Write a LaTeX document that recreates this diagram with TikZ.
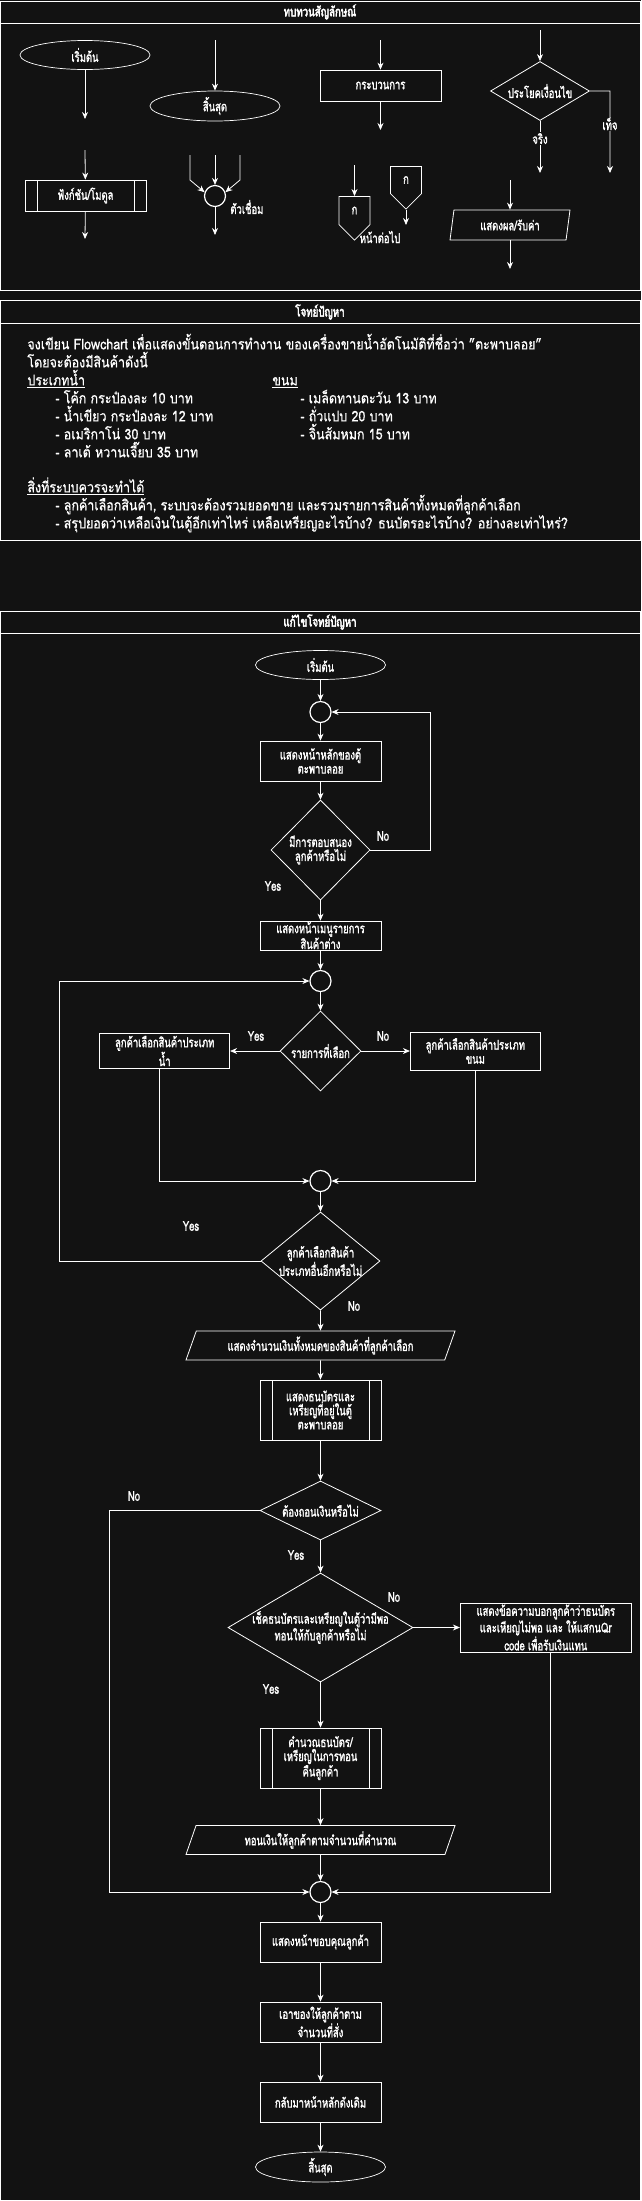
\documentclass[tikz,border=0pt]{standalone}
\usepackage{fontspec}
\setmainfont[Script=Thai, FakeStretch=0.85, FakeBold=0.6]{Loma}
\newfontfamily\chartfont[Script=Thai, FakeStretch=0.7, FakeBold=1.5]{Loma}
\newfontfamily\headfont[Script=Thai, FakeStretch=0.72, FakeBold=3]{Loma}
\usepackage{xcolor}
\usepackage{tikz}
\usetikzlibrary{shapes.geometric, shapes.symbols, positioning}
\usetikzlibrary{arrows.meta}
\tikzset{>={Stealth[length=7pt,width=6pt]}}
\definecolor{bg}{HTML}{121212}

\begin{document}
\begin{tikzpicture}[x=1pt, y=-1pt, color=white, line width=0.8pt,
    terminal/.style={ellipse, draw, line width=0.7pt, minimum width=130pt, minimum height=29pt, inner sep=0pt, font=\chartfont\fontsize{13.5}{14}\selectfont},
    process/.style={rectangle, draw, minimum width=121pt, minimum height=40pt, inner sep=0pt, align=center, font=\chartfont\fontsize{13.5}{14}\selectfont},
    subproc/.style={process, minimum height=60pt, path picture={\draw ([xshift=12pt]path picture bounding box.north west) -- ([xshift=12pt]path picture bounding box.south west) ([xshift=-12pt]path picture bounding box.north east) -- ([xshift=-12pt]path picture bounding box.south east);}},
    decision/.style={diamond, draw, shape aspect=1.6, inner sep=-15pt, align=center, font=\chartfont\fontsize{13.5}{14}\selectfont},
    io/.style={trapezium, trapezium left angle=60, trapezium right angle=120, trapezium stretches body, draw, minimum width=269pt, minimum height=29pt, inner sep=0pt, font=\chartfont\fontsize{13.5}{14}\selectfont},
    offpage/.style={signal, signal to=south, draw, minimum width=31pt, minimum height=31pt, inner sep=0pt, font=\chartfont\fontsize{13.5}{14}\selectfont},
    junction/.style={circle, draw, line width=1.2pt, minimum size=21pt, inner sep=0pt},
    lbl/.style={inner sep=1pt, font=\chartfont\fontsize{13.5}{14}\selectfont},
    heading/.style={inner sep=0pt, font=\headfont\fontsize{13.5}{14}\selectfont},
    bodytext/.style={anchor=north west, align=left, inner sep=0pt, font=\fontsize{14.7}{18}\selectfont},
    frame/.style={line width=1pt}]

    %Background and frames
    \fill[bg] (0,0) rectangle (641,2201);
    \useasboundingbox (0,0) rectangle (641,2201);
    \draw[frame] (0.5,1) rectangle (640.5,290) (0.5,23) -- (640.5,23);
    \draw[frame] (0.5,300.5) rectangle (640.5,540) (0.5,323) -- (640.5,323);
    \draw[frame] (0.5,611) rectangle (640.5,2200) (0.5,633) -- (640.5,633);
    \node[heading](reviewTitle) at (320,12){ทบทวนสัญลักษณ์};
    \node[heading](taskTitle) at (320,312){โจทย์ปัญหา};
    \node[heading](solveTitle) at (320,622){แก้ไขโจทย์ปัญหา};

    %Symbols
    \node[terminal](lgStart) at (85,55){เริ่มต้น};
    \coordinate (lgStartOut) at (85,119);
    \coordinate (lgFuncIn) at (85,150);
    \node[subproc, minimum height=31pt](lgFunc) at (85.5,195.5){ฟังก์ชัน/โมดูล};
    \coordinate (lgFuncOut) at (85,239);
    \coordinate (lgEndIn) at (215,40);
    \node[terminal, minimum height=30pt](lgEnd) at (215,106){สิ้นสุด};
    \coordinate (lgJoinL) at (190,155);
    \coordinate (lgJoinM) at (215,155);
    \coordinate (lgJoinR) at (240,155);
    \node[junction](lgJoin) at (215,196){};
    \coordinate (lgJoinOut) at (215,235);
    \node[lbl, anchor=west](lgJoinText) at (229,207){ตัวเชื่อม};
    \coordinate (lgProcIn) at (380.5,40);
    \node[process, minimum height=31pt](lgProc) at (380.5,85.5){กระบวนการ};
    \coordinate (lgProcOut) at (380.5,130);
    \coordinate (lgPageIn) at (354.5,165);
    \node[offpage](lgPageA) at (354.5,210.5){ก};
    \node[offpage, minimum height=30pt](lgPageB) at (406,180){ก};
    \coordinate (lgPageOut) at (406,225);
    \node[lbl](lgPageText) at (380,237){หน้าต่อไป};
    \coordinate (lgDecIn) at (540,30);
    \node[decision, minimum width=99pt, minimum height=59pt](lgDec) at (540,91){ประโยคเงื่อนไข};
    \coordinate (lgDecTrue) at (540,173);
    \coordinate (lgDecFalse) at (610,173);
    \coordinate (lgIOIn) at (510,180);
    \node[io, trapezium left angle=70, trapezium right angle=110, minimum width=120pt, minimum height=30pt](lgIO) at (510,225){แสดงผล/รับค่า};
    \coordinate (lgIOOut) at (510,269);

    \draw[->] (lgStart) -- (lgStartOut);
    \draw[->] (lgFuncIn) -- (lgFunc);
    \draw[->] (lgFunc) -- (lgFuncOut);
    \draw[->] (lgEndIn) -- (lgEnd);
    \draw[->] (lgJoinL) -- ++(0,25) -- (lgJoin.160);
    \draw[->] (lgJoinM) -- (lgJoin);
    \draw[->] (lgJoinR) -- ++(0,25) -- (lgJoin.20);
    \draw[->] (lgJoin) -- (lgJoinOut);
    \draw[->] (lgProcIn) -- (lgProc);
    \draw[->] (lgProc) -- (lgProcOut);
    \draw[->] (lgPageIn) -- (lgPageA);
    \draw[->] (lgPageB.south) -- (lgPageOut);
    \draw[->] (lgDecIn) -- (lgDec);
    \draw[->] (lgDec.south) -- node[lbl, fill=bg, pos=0.34](lgTrueText){จริง} (lgDecTrue);
    \draw[->] (lgDec.east) -- ++(20,0) -- node[lbl, fill=bg, pos=0.4](lgFalseText){เท็จ} (lgDecFalse);
    \draw[->] (lgIOIn) -- (lgIO);
    \draw[->] (lgIO) -- (lgIOOut);

    %Task
    \node[bodytext](intro) at (27,332){\rule{0pt}{17pt}จงเขียน Flowchart เพื่อแสดงขั้นตอนการทำงาน ของเครื่องขายน้ำอัตโนมัติที่ชื่อว่า "ตะพาบลอย"\\โดยจะต้องมีสินค้าดังนี้};
    \node[bodytext](drinks) at (27,368){\rule{0pt}{17pt}\underline{ประเภทน้ำ}\\\hspace*{28pt}- โค้ก กระป๋องละ 10 บาท\\\hspace*{28pt}- น้ำเขียว กระป๋องละ 12 บาท\\\hspace*{28pt}- อเมริกาโน่ 30 บาท\\\hspace*{28pt}- ลาเต้ หวานเจี๊ยบ 35 บาท};
    \node[bodytext](snacks) at (272,368){\rule{0pt}{17pt}\underline{ขนม}\\\hspace*{28pt}- เมล็ดทานตะวัน 13 บาท\\\hspace*{28pt}- ถั่วแปบ 20 บาท\\\hspace*{28pt}- จิ้นส้มหมก 15 บาท};
    \node[bodytext](needs) at (27,475){\rule{0pt}{17pt}\underline{สิ่งที่ระบบควรจะทำได้}\\\hspace*{28pt}- ลูกค้าเลือกสินค้า, ระบบจะต้องรวมยอดขาย และรวมรายการสินค้าทั้งหมดที่ลูกค้าเลือก\\\hspace*{28pt}- สรุปยอดว่าเหลือเงินในตู้อีกเท่าไหร่ เหลือเหรียญอะไรบ้าง? ธนบัตรอะไรบ้าง? อย่างละเท่าไหร่?};

    %Nodes
    \node[terminal](start) at (320.5,665){เริ่มต้น};
    \node[junction](joinA) at (320.5,712){};
    \node[process](mainpage) at (320.5,761){แสดงหน้าหลักของตู้\\ตะพาบลอย};
    \node[decision, minimum width=99pt, minimum height=100pt](respond) at (320.5,850){มีการตอบสนอง\\ลูกค้าหรือไม่};
    \node[process, minimum height=29pt](menu) at (320.5,935.5){แสดงหน้าเมนูรายการ\\สินค้าต่าง};
    \node[junction](joinB) at (320.5,981){};
    \node[decision, minimum width=81pt, minimum height=80pt](choice) at (320.5,1051){รายการที่เลือก};
    \node[process, minimum width=130pt, minimum height=35pt](water)[left=49.5pt of choice]{ลูกค้าเลือกสินค้าประเภท\\น้ำ};
    \node[process, minimum width=130pt, minimum height=38pt](snack)[right=48.5pt of choice]{ลูกค้าเลือกสินค้าประเภท\\ขนม};
    \node[junction](joinC) at (320.5,1181){};
    \node[decision, minimum width=119pt, minimum height=98pt](more) at (320.5,1261){ลูกค้าเลือกสินค้า\\ประเภทอื่นอีกหรือไม่};
    \node[io](total) at (320.5,1345.5){แสดงจำนวนเงินทั้งหมดของสินค้าที่ลูกค้าเลือก};
    \node[subproc](cash) at (320.5,1410){แสดงธนบัตรและ\\เหรียญที่อยู่ในตู้\\ตะพาบลอย};
    \node[decision, minimum width=121pt, minimum height=59pt](withdraw) at (320.5,1510.5){ต้องถอนเงินหรือไม่};
    \node[decision, minimum width=185pt, minimum height=109pt](enough) at (320.5,1627.5){เช็คธนบัตรและเหรียญในตู้ว่ามีพอ\\ทอนให้กับลูกค้าหรือไม่};
    \node[process, minimum width=171pt, minimum height=49pt](notenough)[right=46.5pt of enough]{แสดงข้อความบอกลูกค้าว่าธนบัตร\\และเหียญไม่พอ และ ให้แสกนQr\\code เพื่อรับเงินแทน};
    \node[subproc](calc) at (320.5,1758){คำนวณธนบัตร/\\เหรียญในการทอน\\คืนลูกค้า};
    \node[io](change) at (320.5,1840){ทอนเงินให้ลูกค้าตามจำนวนที่คำนวณ};
    \node[junction](joinD) at (320.5,1892){};
    \node[process](thanks) at (320.5,1942){แสดงหน้าขอบคุณลูกค้า};
    \node[process](give) at (320.5,2022){เอาของให้ลูกค้าตาม\\จำนวนที่สั่ง};
    \node[process](back) at (320.5,2102){กลับมาหน้าหลักดังเดิม};
    \node[terminal, minimum height=30pt](stop) at (320.5,2167){สิ้นสุด};

    \node[lbl](noRespond) at (383,836){No};
    \node[lbl](yesRespond) at (273,886){Yes};
    \node[lbl](yesChoice) at (256,1036){Yes};
    \node[lbl](noChoice) at (383,1036){No};
    \node[lbl](yesMore) at (191,1226){Yes};
    \node[lbl](noMore) at (354,1306){No};
    \node[lbl](noWithdraw) at (134,1496){No};
    \node[lbl](yesWithdraw) at (296,1555){Yes};
    \node[lbl](noEnough) at (394,1597){No};
    \node[lbl](yesEnough) at (271,1689){Yes};

    %Lines
    \draw[->] (start) -- (joinA);
    \draw[->] (joinA) -- (mainpage);
    \draw[->] (mainpage) -- (respond);
    \draw[->] (respond.east) -- ++(60,0) |- (joinA.east);
    \draw[->] (respond) -- (menu);
    \draw[->] (menu) -- (joinB);
    \draw[->] (joinB) -- (choice);
    \draw[->] (choice.west) -- (water.east);
    \draw[->] (choice.east) -- (snack.west);
    \draw[->] ([xshift=-5pt]water.south) |- (joinC.west);
    \draw[->] (snack.south) |- (joinC.east);
    \draw[->] (joinC) -- (more);
    \draw[->] (more.west) -- ++(-201,0) |- (joinB.west);
    \draw[->] (more) -- (total);
    \draw[->] (total) -- (cash);
    \draw[->] (cash) -- (withdraw);
    \draw[->] (withdraw.west) -- ++(-150,0) |- (joinD.west);
    \draw[->] (withdraw) -- (enough);
    \draw[->] (enough.east) -- (notenough.west);
    \draw[->] ([xshift=5pt]notenough.south) |- (joinD.east);
    \draw[->] (enough) -- (calc);
    \draw[->] (calc) -- (change);
    \draw[->] (change) -- (joinD);
    \draw[->] (joinD) -- (thanks);
    \draw[->] (thanks) -- (give);
    \draw[->] (give) -- (back);
    \draw[->] (back) -- (stop);

\end{tikzpicture}
\end{document}
